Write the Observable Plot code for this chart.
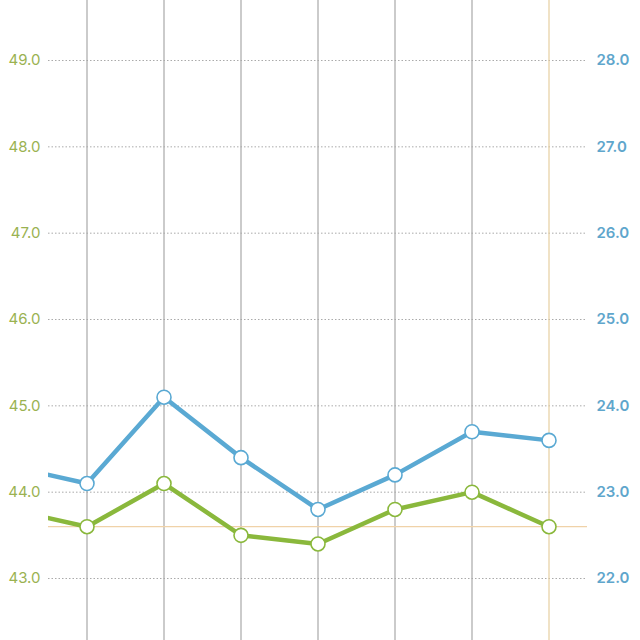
<!DOCTYPE html>
<html><head><meta charset="utf-8">
<script src="https://cdn.jsdelivr.net/npm/d3@7"></script>
<script src="https://cdn.jsdelivr.net/npm/@observablehq/plot@0.6"></script>
<style>body{margin:0;background:#fff}</style>
</head><body><div id="chart"></div>
<script>
const idx = [0, 1, 2, 3, 4, 5, 6, 7];
const greenValues = [43.8, 43.6, 44.1, 43.5, 43.4, 43.8, 44.0, 43.6];
const blueValues = [23.3, 23.1, 24.1, 23.4, 22.8, 23.2, 23.7, 23.6];
const leftTicks = [43, 44, 45, 46, 47, 48, 49];
const rightTicks = [22, 23, 24, 25, 26, 27, 28];
const offset = 21; // right axis = left axis - 21
const refValue = 43.6;
const refIndex = 7;

const green = idx.map((i, k) => ({i, v: greenValues[k]}));
const blue = idx.map((i, k) => ({i, v: blueValues[k] + offset}));
const visible = d => d.i >= 1;

const GREEN = "#8ab83c", BLUE = "#5aa9d3";
const fontFamily = "Inter, 'Open Sans', sans-serif";

const plot = Plot.plot({
  width: 640, height: 640,
  marginTop: 0, marginBottom: 0, marginLeft: 48, marginRight: 53,
  x: {type: "linear", domain: [0.5, 7.5], axis: null},
  y: {domain: [42.282, 49.695], axis: null},
  style: {fontFamily, background: "#fff"},
  marks: [
    Plot.ruleY(leftTicks, {stroke: "#aaa", strokeWidth: 1, strokeDasharray: "1.5,2"}),
    Plot.ruleX(idx.filter(i => i >= 1 && i !== refIndex), {stroke: "#a8a8a8", strokeWidth: 1.2}),
    Plot.ruleX([refIndex], {stroke: "#e6cfa0", strokeWidth: 1.2}),
    Plot.ruleY([refValue], {stroke: "#f0d2a8", strokeWidth: 1.2}),
    Plot.line(blue, {x: "i", y: "v", stroke: BLUE, strokeWidth: 4.5, clip: "frame"}),
    Plot.line(green, {x: "i", y: "v", stroke: GREEN, strokeWidth: 4.5, clip: "frame"}),
    Plot.dot(blue.filter(visible), {x: "i", y: "v", r: 7, fill: "#fff", stroke: BLUE, strokeWidth: 1.6}),
    Plot.dot(green.filter(visible), {x: "i", y: "v", r: 7, fill: "#fff", stroke: GREEN, strokeWidth: 1.6}),
    Plot.text(leftTicks, {x: 0.5, y: d => d, dx: -8, text: d => d.toFixed(1), textAnchor: "end", fill: "#9ab251", fontSize: 15}),
    Plot.text(rightTicks, {x: 7.5, y: d => d + offset, dx: 9, text: d => d.toFixed(1), textAnchor: "start", fill: "#5fa6cc", fontSize: 15, fontWeight: 600})
  ]
});
document.getElementById("chart").appendChild(plot);
</script>
</body></html>
